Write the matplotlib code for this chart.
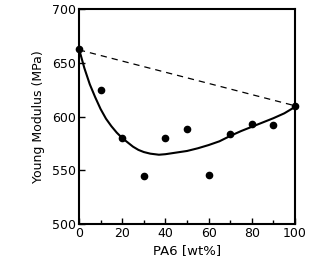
import matplotlib
matplotlib.use("Agg")
import matplotlib.pyplot as plt

# measured young modulus vs PA6 content
pa6 = [0, 10, 20, 30, 40, 50, 60, 70, 80, 90, 100]
modulus = [663, 625, 580, 545, 580, 588, 546, 584, 593, 592, 610]

# fitted curve
fit_x = [0, 2.5, 5, 7.5, 10, 12.5, 15, 17.5, 20, 22.5, 25, 27.5, 30, 33, 37,
         40, 45, 50, 55, 60, 65, 70, 75, 80, 85, 90, 95, 100]
fit_y = [663, 645, 630, 618, 607, 598, 591, 585, 580, 576, 572, 569, 567, 565.5, 564.5,
         565, 566.5, 568, 570.5, 573.5, 577, 582, 586.5, 590.5, 594.5, 598.5, 603, 609]

# additivity rule
rule_x = [0, 100]
rule_y = [662, 610]

fig = plt.figure(figsize=(3.25, 2.57), dpi=100)
ax = fig.add_axes([0.243, 0.128, 0.665, 0.837])

ax.plot(fit_x, fit_y, color="black", lw=1.5)
ax.plot(rule_x, rule_y, color="black", lw=0.9, ls=(0, (5, 4)))
ax.plot(pa6, modulus, "o", color="black", ms=4.5, clip_on=False)

ax.set_xlim(0, 100)
ax.set_ylim(500, 700)
ax.set_xticks([0, 20, 40, 60, 80, 100])
ax.set_xticks(range(10, 100, 20), minor=True)
ax.set_yticks([500, 550, 600, 650, 700])
ax.tick_params(direction="in", length=4, width=1, labelsize=9, pad=2)
ax.tick_params(which="minor", direction="in", length=3, width=1)
for s in ax.spines.values():
    s.set_linewidth(1.5)

ax.set_xlabel("PA6 [wt%]", fontsize=9.5, labelpad=3)
ax.set_ylabel("Young Modulus (MPa)", fontsize=9, labelpad=5)

fig.savefig("out.png", dpi=100)
